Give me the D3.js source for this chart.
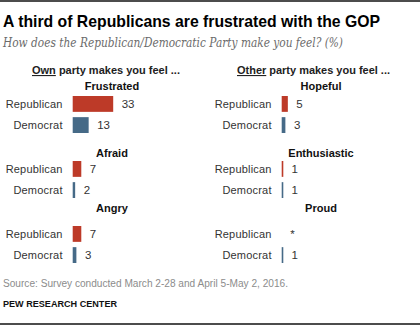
<!DOCTYPE html>
<html>
<head>
<meta charset="utf-8">
<script src="https://cdn.jsdelivr.net/npm/d3@7"></script>
<style>
  body { margin: 0; background: #fff; }
  svg { display: block; font-family: "Liberation Sans", Arial, sans-serif; }
</style>
</head>
<body>
<script>
// data
const ownEmotions = ["Frustrated", "Afraid", "Angry"];
const ownRep = [33, 7, 7];
const ownDem = [13, 2, 3];
const otherEmotions = ["Hopeful", "Enthusiastic", "Proud"];
const otherRep = [5, 1, 0];
const otherRepLabels = ["5", "1", "*"];
const otherDem = [3, 1, 1];
const parties = ["Republican", "Democrat"];

const width = 420, height = 326;
const colors = { Republican: "#bd3a28", Democrat: "#466a87" };

const svg = d3.select("body").append("svg")
    .attr("width", width)
    .attr("height", height);

svg.append("line").attr("x1", 0).attr("x2", width).attr("y1", 1).attr("y2", 1)
    .attr("stroke", "#111").attr("stroke-width", 1.5);
svg.append("line").attr("x1", 0).attr("x2", width).attr("y1", 324).attr("y2", 324)
    .attr("stroke", "#111").attr("stroke-width", 1.5);

svg.append("text")
    .attr("x", 3).attr("y", 27)
    .attr("font-size", 17).attr("font-weight", "bold").attr("fill", "#000")
    .attr("textLength", 377).attr("lengthAdjust", "spacingAndGlyphs")
    .text("A third of Republicans are frustrated with the GOP");

svg.append("text")
    .attr("x", 3).attr("y", 47)
    .attr("font-family", "'DejaVu Serif', Georgia, serif")
    .attr("font-style", "italic").attr("font-size", 13).attr("fill", "#6b6b6b")
    .attr("textLength", 340).attr("lengthAdjust", "spacingAndGlyphs")
    .text("How does the Republican/Democratic Party make you feel? (%)");

// x scale shared by both panels
const x = d3.scaleLinear().domain([0, 33]).range([0, 40.5]);

// group rows
const groupY = d3.scaleOrdinal().domain([0, 1, 2]).range([96, 161, 226]);
const rowY = d3.scaleBand().domain(parties).range([0, 37]).paddingInner(0.25);
const titleGap = [6, 4, 14];

function panel(opts) {
    const g = svg.append("g");
    const head = g.append("text")
        .attr("x", opts.headX).attr("y", 74)
        .attr("text-anchor", "middle")
        .attr("font-size", 11).attr("font-weight", "bold").attr("fill", "#222")
        .attr("textLength", opts.headW).attr("lengthAdjust", "spacingAndGlyphs");
    head.append("tspan").attr("text-decoration", "underline").text(opts.headU);
    head.append("tspan").text(opts.headRest);

    opts.emotions.forEach((emo, i) => {
        const gy = groupY(i);
        g.append("text")
            .attr("x", opts.titleX).attr("y", gy - titleGap[i])
            .attr("text-anchor", "middle")
            .attr("font-size", 11).attr("font-weight", "bold").attr("fill", "#111")
            .text(emo);

        const rows = [
            { party: "Republican", value: opts.rep[i], label: opts.repLabels ? opts.repLabels[i] : String(opts.rep[i]) },
            { party: "Democrat", value: opts.dem[i], label: String(opts.dem[i]) }
        ];

        const row = g.selectAll(null).data(rows).enter().append("g")
            .attr("transform", d => `translate(0,${gy + rowY(d.party)})`);

        row.append("text")
            .attr("x", opts.barX - 10).attr("y", rowY.bandwidth() / 2)
            .attr("dy", "0.35em")
            .attr("text-anchor", "end")
            .attr("font-size", 11).attr("fill", "#333")
            .attr("letter-spacing", 0.2)
            .text(d => d.party);

        row.filter(d => d.value > 0).append("rect")
            .attr("x", opts.barX).attr("y", 0)
            .attr("width", d => Math.max(1.6, x(d.value)))
            .attr("height", rowY.bandwidth())
            .attr("fill", d => colors[d.party]);

        row.append("text")
            .attr("x", d => opts.barX + x(d.value) + 8.5)
            .attr("y", rowY.bandwidth() / 2)
            .attr("dy", "0.35em")
            .attr("font-size", 11.5).attr("fill", "#333")
            .text(d => d.label);
    });
}

panel({
    headX: 106, headW: 148, headU: "Own", headRest: " party makes you feel ...",
    titleX: 112, barX: 72.7,
    emotions: ownEmotions, rep: ownRep, dem: ownDem
});

panel({
    headX: 313.5, headW: 153, headU: "Other", headRest: " party makes you feel ...",
    titleX: 321, barX: 281.7,
    emotions: otherEmotions, rep: otherRep, repLabels: otherRepLabels, dem: otherDem
});

svg.append("text")
    .attr("x", 3).attr("y", 287)
    .attr("font-size", 10).attr("fill", "#8c8c8c")
    .attr("textLength", 285).attr("lengthAdjust", "spacingAndGlyphs")
    .text("Source: Survey conducted March 2-28 and April 5-May 2, 2016.");

svg.append("text")
    .attr("x", 3).attr("y", 307)
    .attr("font-size", 9.5).attr("font-weight", "bold").attr("fill", "#111")
    .attr("textLength", 114).attr("lengthAdjust", "spacingAndGlyphs")
    .text("PEW RESEARCH CENTER");
</script>
</body>
</html>
